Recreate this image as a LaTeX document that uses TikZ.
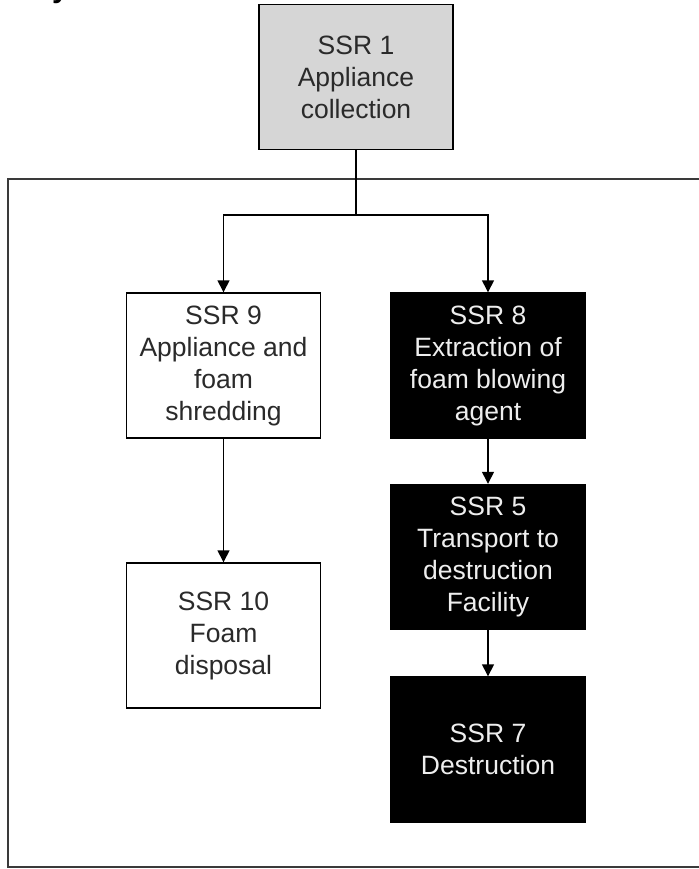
\documentclass[tikz,border=0pt]{standalone}
\usepackage{fontspec}
\setmainfont{Liberation Sans}
\usetikzlibrary{arrows.meta}
\definecolor{boxgray}{HTML}{D6D6D6}
\definecolor{txtdark}{HTML}{2A2A2A}
\definecolor{txtlight}{HTML}{EEEEEE}
\definecolor{framegray}{HTML}{3A3A3A}
\begin{document}
\begin{tikzpicture}[x=1pt,y=-1pt,
  ssrbox/.style={draw=black, line width=1.4pt, minimum width=194pt, minimum height=145pt,
    inner sep=0pt, align=center, font=\fontsize{26.5}{32}\selectfont},
  greybox/.style={ssrbox, fill=boxgray, text=txtdark},
  whitebox/.style={ssrbox, fill=white, text=txtdark},
  blackbox/.style={ssrbox, fill=black, text=txtlight},
  conn/.style={draw=black, line width=1.4pt},
  arr/.style={conn, -{Triangle[width=12pt,length=12pt]}},
  frameline/.style={draw=framegray, line width=1.3pt}]
\useasboundingbox (0,0) rectangle (698,869);
\fill[white] (0,0) rectangle (698,869);
% cropped heading fragment
\node[anchor=base west, inner sep=0pt, font=\fontsize{30}{36}\selectfont\bfseries] (frag) at (52,-2) {y};
% outer frame
\coordinate (ftr) at (700,179);
\coordinate (ftl) at (8,179);
\coordinate (fbl) at (8,867);
\coordinate (fbr) at (700,867);
\draw[frameline] (ftr) -- (ftl) -- (fbl) -- (fbr);
% boxes
\node[greybox]  (s1)  at (356,77)    {SSR 1\\Appliance\\collection};
\node[whitebox] (s9)  at (223.5,365.5) {SSR 9\\Appliance and\\foam\\shredding};
\node[blackbox] (s8)  at (488,365.5) {SSR 8\\Extraction of\\foam blowing\\agent};
\node[whitebox] (s10) at (223.5,635.5) {SSR 10\\Foam\\disposal};
\node[blackbox] (s5)  at (488,557)   {SSR 5\\Transport to\\destruction\\Facility};
\node[blackbox] (s7)  at (488,749.5) {SSR 7\\Destruction};
% connectors
\coordinate (j) at (356,215);
\draw[conn] (s1.south) -- (j);
\draw[arr] (j) -| (s9.north);
\draw[arr] (j) -| (s8.north);
\draw[arr] (s9.south) -- (s10.north);
\draw[arr] (s8.south) -- (s5.north);
\draw[arr] (s5.south) -- (s7.north);
\end{tikzpicture}
\end{document}
